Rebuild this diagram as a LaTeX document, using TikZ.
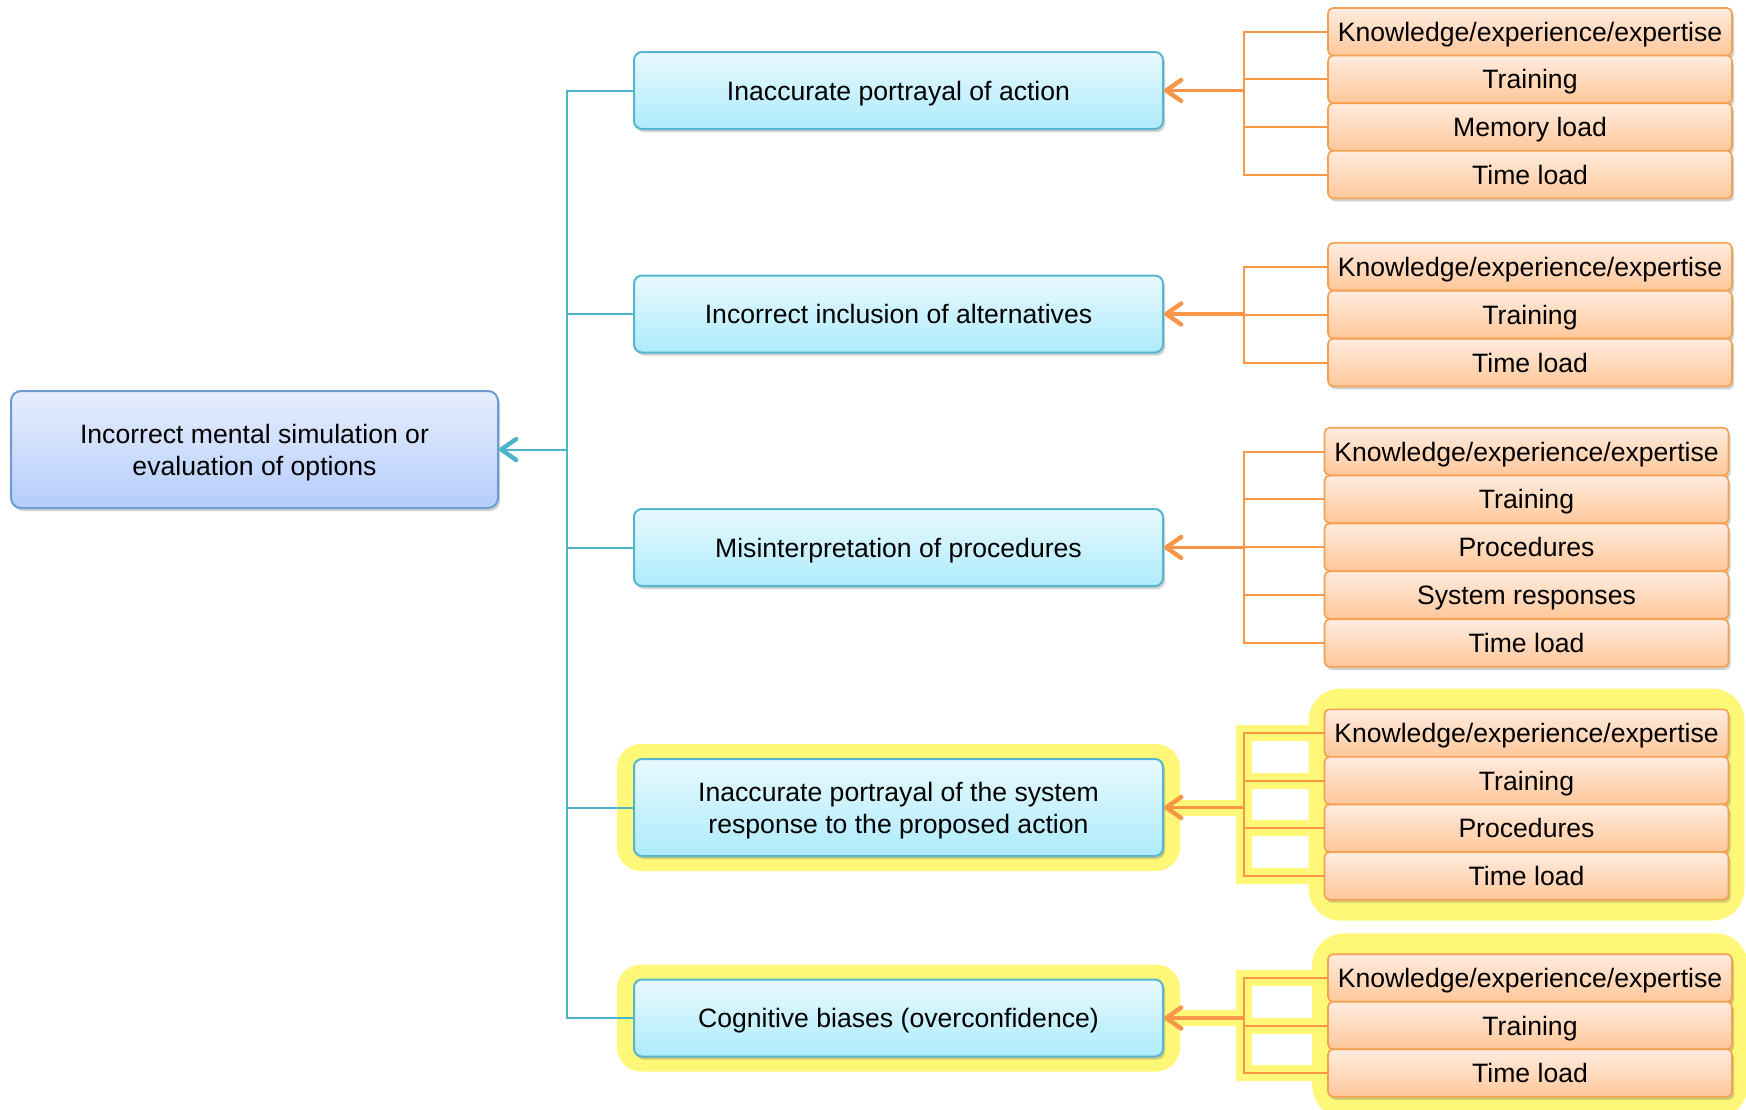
\documentclass[tikz,border=0pt]{standalone}
\usepackage{fontspec}
\setmainfont{Liberation Sans}
\usetikzlibrary{arrows.meta,shadows,fit,backgrounds}
\definecolor{rootTop}{HTML}{E6EEFD}
\definecolor{rootBot}{HTML}{B5CDFB}
\definecolor{rootBorder}{HTML}{6D9BD1}
\definecolor{midTop}{HTML}{E8F9FE}
\definecolor{midBot}{HTML}{AEEBFC}
\definecolor{midBorder}{HTML}{56B6CF}
\definecolor{facTop}{HTML}{FFECDF}
\definecolor{facBot}{HTML}{FFC79A}
\definecolor{facBorder}{HTML}{F5A04F}
\definecolor{tealC}{HTML}{4DB3CB}
\definecolor{orC}{HTML}{F79646}
\definecolor{hlC}{HTML}{FFF778}
\tikzset{
  every node/.style={font=\fontsize{13.3}{16}\selectfont, text=black},
  shad/.style={drop shadow={shadow xshift=1pt, shadow yshift=-1.5pt, opacity=0.3, fill=black!60}},
  oneline/.style={text height=11pt, text depth=1.5pt},
  twoline/.style={text height=27pt, text depth=1.5pt},
  rootbox/.style={shad, draw=rootBorder, line width=1pt, rounded corners=5pt,
    top color=rootTop, bottom color=rootBot, minimum width=243.5pt,
    minimum height=58.5pt, align=center, twoline},
  midbox/.style={shad, draw=midBorder, line width=1pt, rounded corners=4pt,
    top color=midTop, bottom color=midBot, minimum width=264.5pt,
    minimum height=38.5pt, align=center, oneline},
  factor/.style={shad, draw=facBorder, line width=0.8pt, rounded corners=2.5pt,
    top color=facTop, bottom color=facBot, minimum width=202pt,
    minimum height=23.8pt, inner sep=0pt, oneline},
  tealline/.style={draw=tealC, line width=1pt},
  tealarrow/.style={draw=tealC, line width=1pt,
    -{Straight Barb[length=7.5pt,width=10.5pt,line width=2.2pt,round]}},
  orline/.style={draw=orC, line width=1pt},
  orarrow/.style={draw=orC, line width=1.6pt,
    -{Straight Barb[length=7.5pt,width=10.5pt,line width=2.2pt,round]}},
  glow/.style={draw=hlC, line width=8pt, line join=miter},
  hlmid/.style={fill=hlC, rounded corners=12pt, inner xsep=8pt, inner ysep=7pt},
  hlgrp/.style={fill=hlC, rounded corners=16pt, inner xsep=7.5pt, inner ysep=10pt},
}
\begin{document}
\begin{tikzpicture}[x=0.5pt,y=-0.5pt]
\useasboundingbox (0,0) rectangle (1746,1109);
\coordinate (tcol) at (567,0);
\coordinate (ocol) at (1244,0);

% root and middle boxes
\node[rootbox] (root) at (254.5,449.5) {Incorrect mental simulation or\\evaluation of options};
\node[midbox] (m1) at (898.5,90.5) {Inaccurate portrayal of action};
\node[midbox] (m2) at (898.5,314) {Incorrect inclusion of alternatives};
\node[midbox] (m3) at (898.5,547.5) {Misinterpretation of procedures};
\node[midbox, minimum height=48.5pt, twoline] (m4) at (898.5,807.5) {Inaccurate portrayal of the system\\response to the proposed action};
\node[midbox] (m5) at (898.5,1018) {Cognitive biases (overconfidence)};

% group 1
\node[factor] (a1) at (1530,31.8) {Knowledge/experience/expertise};
\node[factor] (a2) at (1530,79.4) {Training};
\node[factor] (a3) at (1530,127) {Memory load};
\node[factor] (a4) at (1530,174.6) {Time load};
% group 2
\node[factor] (b1) at (1530,266.7) {Knowledge/experience/expertise};
\node[factor] (b2) at (1530,314.6) {Training};
\node[factor] (b3) at (1530,362.5) {Time load};
% group 3
\node[factor] (c1) at (1526.5,451.5) {Knowledge/experience/expertise};
\node[factor] (c2) at (1526.5,499.4) {Training};
\node[factor] (c3) at (1526.5,547.3) {Procedures};
\node[factor] (c4) at (1526.5,595.2) {System responses};
\node[factor] (c5) at (1526.5,643.1) {Time load};
% group 4
\node[factor] (d1) at (1526.5,733.1) {Knowledge/experience/expertise};
\node[factor] (d2) at (1526.5,780.7) {Training};
\node[factor] (d3) at (1526.5,828.3) {Procedures};
\node[factor] (d4) at (1526.5,875.9) {Time load};
% group 5
\node[factor] (e1) at (1530,978) {Knowledge/experience/expertise};
\node[factor] (e2) at (1530,1025.5) {Training};
\node[factor] (e3) at (1530,1073) {Time load};

% highlights
\begin{scope}[on background layer]
  \node[hlmid, fit=(m4)] (h4) {};
  \node[hlmid, fit=(m5)] (h5) {};
  \node[hlgrp, fit=(d1)(d4)] (hd) {};
  \node[hlgrp, fit=(e1)(e3)] (he) {};
  \draw[glow] (d1.west) -- (d1.west -| ocol) -- (d4.west -| ocol) -- (d4.west);
  \draw[glow] (d2.west) -- (d2.west -| ocol);
  \draw[glow] (d3.west) -- (d3.west -| ocol);
  \draw[glow] (m4.east -| ocol) -- (m4.east);
  \draw[glow] (e1.west) -- (e1.west -| ocol) -- (e3.west -| ocol) -- (e3.west);
  \draw[glow] (e2.west) -- (e2.west -| ocol);
  \draw[glow] (m5.east -| ocol) -- (m5.east);
\end{scope}

% teal tree
\draw[tealline] (m1.west) -| (m5.west -| tcol) -- (m5.west);
\draw[tealline] (m2.west) -- (m2.west -| tcol);
\draw[tealline] (m3.west) -- (m3.west -| tcol);
\draw[tealline] (m4.west) -- (m4.west -| tcol);
\draw[tealarrow] (root.east -| tcol) -- (root.east);

% orange brackets
\draw[orline] (a1.west) -- (a1.west -| ocol) -- (a4.west -| ocol) -- (a4.west);
\draw[orline] (a2.west) -- (a2.west -| ocol);
\draw[orline] (a3.west) -- (a3.west -| ocol);
\draw[orarrow] (m1.east -| ocol) -- (m1.east);

\draw[orline] (b1.west) -- (b1.west -| ocol) -- (b3.west -| ocol) -- (b3.west);
\draw[orline] (b2.west) -- (b2.west -| ocol);
\draw[orarrow] (m2.east -| ocol) -- (m2.east);

\draw[orline] (c1.west) -- (c1.west -| ocol) -- (c5.west -| ocol) -- (c5.west);
\draw[orline] (c2.west) -- (c2.west -| ocol);
\draw[orline] (c3.west) -- (c3.west -| ocol);
\draw[orline] (c4.west) -- (c4.west -| ocol);
\draw[orarrow] (m3.east -| ocol) -- (m3.east);

\draw[orline] (d1.west) -- (d1.west -| ocol) -- (d4.west -| ocol) -- (d4.west);
\draw[orline] (d2.west) -- (d2.west -| ocol);
\draw[orline] (d3.west) -- (d3.west -| ocol);
\draw[orarrow] (m4.east -| ocol) -- (m4.east);

\draw[orline] (e1.west) -- (e1.west -| ocol) -- (e3.west -| ocol) -- (e3.west);
\draw[orline] (e2.west) -- (e2.west -| ocol);
\draw[orarrow] (m5.east -| ocol) -- (m5.east);
\end{tikzpicture}
\end{document}
